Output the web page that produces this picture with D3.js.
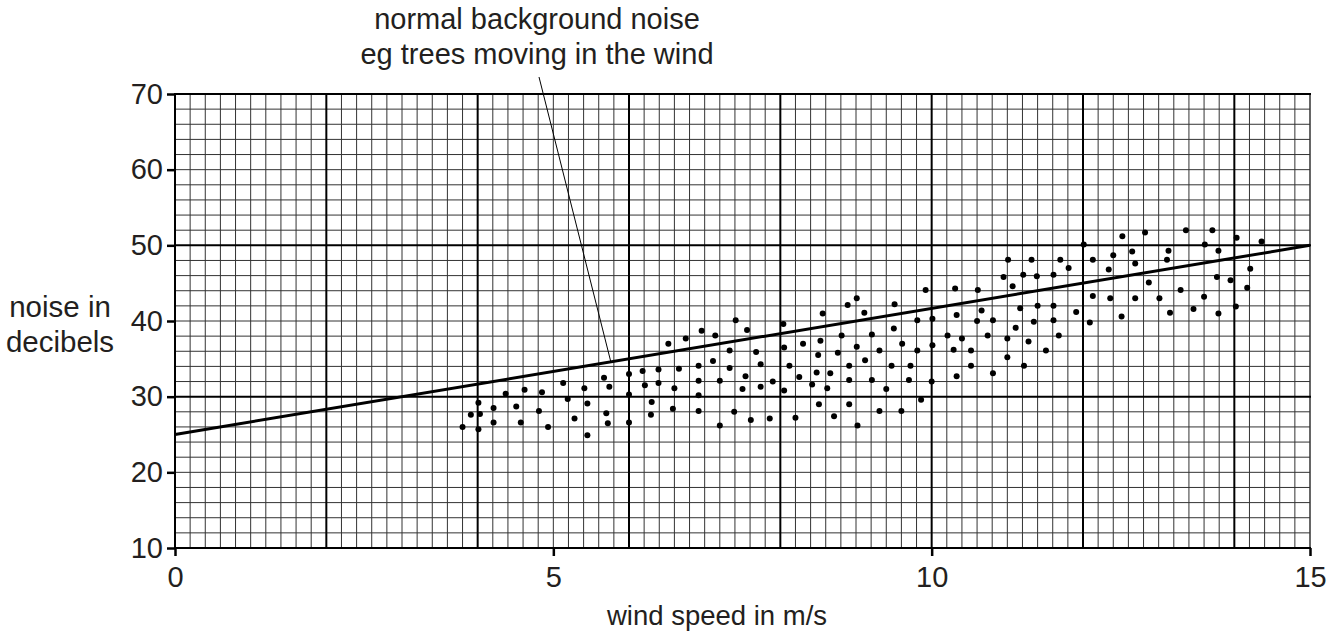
<!DOCTYPE html>
<html>
<head>
<meta charset="utf-8">
<script src="https://cdn.jsdelivr.net/npm/d3@7"></script>
<style>
  body { margin: 0; background: #fff; }
  svg { display: block; font-family: "Liberation Sans", Arial, sans-serif; }
</style>
</head>
<body>
<div id="chart"></div>
<script>
// wind speed (m/s) of each reading
const windSpeed = [
  3.80, 3.91, 4.01, 4.03, 4.01, 4.21, 4.21, 4.37, 4.51, 4.57, 4.62, 4.81, 4.85, 4.93,
  5.13, 5.19, 5.28, 5.41, 5.45, 5.45, 5.67, 5.74, 5.70, 5.72, 6.00, 6.00, 6.00, 6.18, 6.21,
  6.30, 6.29, 6.39, 6.39, 6.52, 6.60, 6.58, 6.66, 6.75, 6.96, 6.92, 6.92, 6.92, 6.92,
  7.14, 7.11, 7.20, 7.20, 7.41, 7.33, 7.33, 7.39, 7.56, 7.50, 7.54, 7.61, 7.68, 7.74, 7.74,
  7.86, 7.90, 8.04, 8.05, 8.05, 8.12, 8.20, 8.25, 8.30, 8.56, 8.53, 8.50, 8.48, 8.66, 8.42,
  8.62, 8.51, 8.71, 8.76,
  8.81, 8.89, 9.01, 9.11, 9.01, 8.91, 8.91, 8.91, 9.02, 9.12, 9.21, 9.21, 9.31, 9.31, 9.40,
  9.47, 9.50, 9.51, 9.60, 9.61, 9.70, 9.72, 9.81, 9.81, 9.86, 9.92, 10.01, 10.01, 10.00,
  10.21, 10.31, 10.33, 10.29, 10.33, 10.40, 10.52, 10.52, 10.61, 10.66, 10.60, 10.81, 10.74,
  10.81, 11.07, 11.17, 11.11, 11.00, 11.00, 11.22, 11.28,
  11.21, 11.32, 11.39, 11.61, 11.70, 11.81, 12.01, 12.13, 12.13, 12.09, 11.91, 12.52, 12.40,
  12.34, 12.36, 12.51, 12.65, 12.69, 12.69, 12.87, 12.82, 13.01, 13.13, 13.11, 13.15, 13.29,
  13.36, 13.46, 13.60, 13.61, 13.71, 13.79, 13.77, 13.79, 11.40, 11.61, 11.61, 11.35, 11.68,
  11.51,
  14.03, 14.36, 14.21, 13.95, 14.17, 14.02, 11.01, 10.95
];

// noise level (dB) of each reading, same order
const noiseLevel = [
  26.0, 27.6, 29.2, 27.7, 25.7, 28.5, 26.6, 30.4, 28.7, 26.6, 30.9, 28.1, 30.6, 26.0,
  31.8, 29.7, 27.1, 31.1, 29.1, 24.9, 32.5, 31.3, 27.8, 26.5, 33.0, 30.3, 26.6, 33.4, 31.5,
  29.3, 27.6, 33.6, 31.8, 37.0, 31.1, 28.4, 33.7, 37.7, 38.7, 34.1, 32.1, 30.2, 28.1,
  38.1, 34.7, 32.1, 26.2, 40.1, 36.1, 33.8, 28.0, 38.8, 31.0, 32.7, 26.9, 35.9, 34.3, 31.3,
  27.1, 32.0, 39.6, 36.5, 30.8, 34.1, 27.2, 32.6, 37.0, 41.0, 37.4, 35.5, 33.2, 33.1, 31.6,
  31.1, 29.0, 27.4, 35.8,
  38.1, 42.1, 43.0, 41.1, 36.6, 34.1, 32.2, 29.0, 26.2, 34.8, 38.2, 32.2, 36.1, 28.1, 31.0,
  34.1, 39.0, 42.2, 28.1, 37.0, 32.2, 34.1, 40.1, 36.1, 29.6, 44.1, 40.3, 36.8, 32.0,
  38.1, 44.3, 40.8, 36.2, 32.7, 37.7, 36.1, 34.1, 44.1, 41.4, 40.0, 40.1, 38.1,
  33.1, 44.6, 41.7, 39.1, 37.7, 35.2, 34.1, 37.3,
  46.1, 48.1, 45.9, 46.1, 48.1, 47.0, 50.1, 48.1, 43.3, 39.8, 41.2, 51.2, 48.7,
  46.8, 43.0, 40.6, 49.2, 47.6, 43.0, 45.1, 51.7, 43.0, 49.3, 48.1, 41.1, 44.1,
  52.0, 41.6, 43.2, 50.1, 52.0, 49.3, 45.8, 41.0, 42.0, 42.0, 40.1, 39.9, 38.1,
  36.1,
  51.0, 50.5, 46.9, 45.4, 44.4, 41.9, 48.1, 45.8
];

// line of normal background noise: [wind speed, dB] at both ends
const lineX = [0, 15];
const lineY = [25, 50];
const leaderAt = 5.76; // wind speed where the label's pointer meets the line

const xTicks = [0, 5, 10, 15];
const yTicks = [10, 20, 30, 40, 50, 60, 70];

const titleLines = ["normal background noise", "eg trees moving in the wind"];
const yLabelLines = ["noise in", "decibels"];
const xLabel = "wind speed in m/s";

const width = 1340, height = 634;
const ink = "#231f20";

const svg = d3.select("#chart").append("svg")
  .attr("width", width)
  .attr("height", height);

const x = d3.scaleLinear().domain([0, 15]).range([175, 1310]);
const y = d3.scaleLinear().domain([10, 70]).range([548, 94]);

// graph paper
const grid = svg.append("g").attr("stroke", "#333").attr("fill", "none");
const near = (v, step) => Math.abs(v / step - Math.round(v / step)) < 1e-6;

grid.selectAll(".vminor")
  .data(d3.range(0, 75).map(i => i * 0.2).filter(v => !near(v, 2)))
  .join("line")
  .attr("x1", d => x(d)).attr("x2", d => x(d))
  .attr("y1", y(10)).attr("y2", y(70))
  .attr("stroke-width", 1);

grid.selectAll(".hminor")
  .data(d3.range(10, 70, 2).filter(v => !near(v - 10, 20)))
  .join("line")
  .attr("x1", x(0)).attr("x2", x(15))
  .attr("y1", d => y(d)).attr("y2", d => y(d))
  .attr("stroke-width", 1);

// right edge of the paper
grid.append("line")
  .attr("x1", x(15)).attr("x2", x(15))
  .attr("y1", y(10)).attr("y2", y(70))
  .attr("stroke-width", 1.5);

grid.selectAll(".vmajor")
  .data(d3.range(0, 15, 2))
  .join("line")
  .attr("x1", d => x(d)).attr("x2", d => x(d))
  .attr("y1", y(10)).attr("y2", y(70))
  .attr("stroke", "#000")
  .attr("stroke-width", 2);

grid.selectAll(".hmajor")
  .data([10, 30, 50, 70])
  .join("line")
  .attr("x1", x(0) - 1).attr("x2", x(15) + 1)
  .attr("y1", d => y(d)).attr("y2", d => y(d))
  .attr("stroke", "#000")
  .attr("stroke-width", 2);

// axes
const fontSize = 29;

const yAxis = svg.append("g")
  .attr("transform", `translate(${x(0)},0)`)
  .call(d3.axisLeft(y).tickValues(yTicks).tickSize(8).tickPadding(4).tickFormat(d3.format("d")));
yAxis.select(".domain").remove();
yAxis.selectAll(".tick line").attr("stroke", "#000").attr("stroke-width", 2.5);
yAxis.selectAll(".tick text")
  .attr("fill", ink)
  .style("font-size", fontSize + "px")
  .style("font-family", "'Liberation Sans', Arial, sans-serif");

const xAxis = svg.append("g")
  .attr("transform", `translate(0,${y(10)})`)
  .call(d3.axisBottom(x).tickValues(xTicks).tickSize(8).tickPadding(10).tickFormat(d3.format("d")));
xAxis.select(".domain").remove();
xAxis.selectAll(".tick line").attr("stroke", "#000").attr("stroke-width", 2.5);
xAxis.selectAll(".tick text")
  .attr("fill", ink)
  .style("font-size", fontSize + "px")
  .style("font-family", "'Liberation Sans', Arial, sans-serif");

// readings
svg.append("g")
  .selectAll("circle")
  .data(windSpeed.map((w, i) => [w, noiseLevel[i]]))
  .join("circle")
  .attr("cx", d => x(d[0]))
  .attr("cy", d => y(d[1]))
  .attr("r", 3)
  .attr("fill", "#000");

// background noise line
const lineScale = d3.scaleLinear().domain(lineX).range(lineY);
svg.append("line")
  .attr("x1", x(lineX[0])).attr("y1", y(lineY[0]))
  .attr("x2", x(lineX[1])).attr("y2", y(lineY[1]))
  .attr("stroke", "#000")
  .attr("stroke-width", 3);

// label and its pointer
svg.append("line")
  .attr("x1", 539).attr("y1", 77)
  .attr("x2", x(leaderAt)).attr("y2", y(lineScale(leaderAt)))
  .attr("stroke", "#000")
  .attr("stroke-width", 1);

svg.append("g")
  .selectAll("text")
  .data(titleLines)
  .join("text")
  .attr("x", 537)
  .attr("y", (d, i) => 29 + i * 35)
  .attr("text-anchor", "middle")
  .attr("fill", ink)
  .style("font-size", "29px")
  .text(d => d);

svg.append("g")
  .selectAll("text")
  .data(yLabelLines)
  .join("text")
  .attr("x", 60)
  .attr("y", (d, i) => 317 + i * 35)
  .attr("text-anchor", "middle")
  .attr("fill", ink)
  .style("font-size", "29.5px")
  .text(d => d);

svg.append("text")
  .attr("x", 717)
  .attr("y", 625)
  .attr("text-anchor", "middle")
  .attr("fill", ink)
  .style("font-size", "27.5px")
  .text(xLabel);
</script>
</body>
</html>
